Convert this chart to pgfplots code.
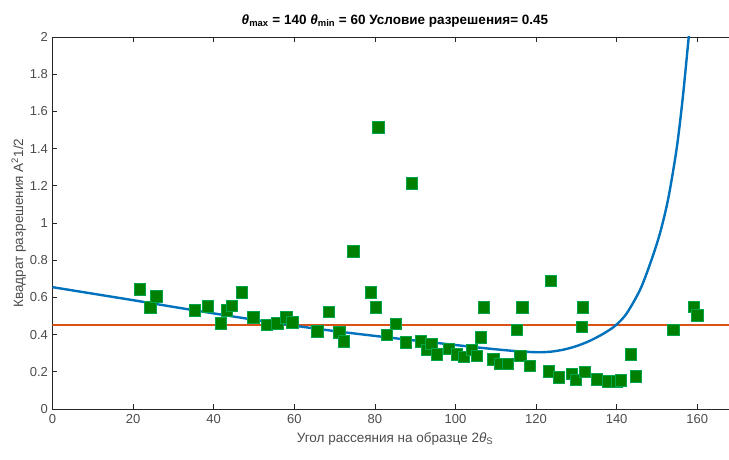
\documentclass[border=0pt]{standalone}
\usepackage{pgfplots}
\pgfplotsset{compat=1.18}
\usepackage{fontspec}
\setmainfont{Liberation Sans}
\definecolor{mblue}{rgb}{0,0.447,0.741}
\definecolor{morange}{rgb}{0.851,0.325,0.098}
\definecolor{mgreen}{rgb}{0,0.5,0}
\definecolor{txtgray}{rgb}{0.30,0.30,0.30}
\definecolor{axgray}{rgb}{0.15,0.15,0.15}
\begin{document}
\begin{tikzpicture}
\begin{axis}[
  name=ax,
  scale only axis,
  width=685pt, height=372pt,
  xmin=0, xmax=170, ymin=0, ymax=2,
  xtick={0,20,...,160},
  ytick={0,0.2,0.4,0.6,0.8,1,1.2,1.4,1.6,1.8,2},
  yticklabels={0,0.2,0.4,0.6,0.8,1,1.2,1.4,1.6,1.8,2},
  tick align=inside,
  major tick length=5pt,
  axis line style={axgray, line width=0.6pt},
  every tick/.style={axgray, line width=0.6pt},
  /pgf/number format/assume math mode=true,
  tick label style={font=\fontsize{13}{15}\selectfont, text=txtgray},
  xticklabel style={yshift=-2pt},
  yticklabel style={xshift=-1pt},
  label style={font=\fontsize{13.5}{16}\selectfont, text=txtgray},
  xlabel={Угол рассеяния на образце 2\textit{θ}\textsubscript{S}},
  ylabel={Квадрат разрешения A\textsuperscript{2}1/2},
  xlabel style={yshift=-2pt},
  ylabel style={yshift=-3pt},
  title={\textbf{\textit{θ}\textsubscript{max} = 140 \textit{θ}\textsubscript{min} = 60 Условие разрешения= 0.45}},
  title style={font=\fontsize{13.5}{15}\selectfont, yshift=0pt},
  clip=true,
]
\addplot[morange, line width=2.4pt] coordinates {(0,0.45) (170,0.45)};
\addplot[mblue, line width=2.4pt, smooth] coordinates {
(0,0.655) (10,0.62) (20,0.585) (30,0.549) (40,0.514) (50,0.480) (60,0.448)
(70,0.419) (80,0.393) (90,0.368) (100,0.344) (105,0.332) (110,0.321)
(114,0.313) (118,0.307) (121,0.305) (124,0.309) (127,0.320) (130,0.338)
(133,0.363) (136,0.396) (138,0.422) (139.9,0.452) (142.5,0.514) (145.8,0.640)
(148.3,0.780) (150.7,0.940) (152.8,1.130) (154.9,1.400) (156.4,1.670)
(157.9,2.000) (158.5,2.120)
};
\addplot[only marks, mark=square*, mark size=5.7pt,
  mark options={fill=mgreen, draw=mgreen!70!cyan, line width=0.4pt}] coordinates {
(21.6,0.643) (24.2,0.547) (25.7,0.607) (35.3,0.532) (38.5,0.552) (41.7,0.461)
(43.2,0.532) (44.4,0.554) (46.9,0.627) (49.8,0.493) (53.1,0.452) (55.8,0.461)
(58.0,0.493) (59.5,0.466) (65.7,0.418) (68.6,0.523) (71.2,0.412) (72.2,0.364)
(74.6,0.849) (78.9,0.627) (80.2,0.547) (80.8,1.514) (83.0,0.400) (85.2,0.460)
(87.6,0.360) (89.2,1.213) (91.4,0.365) (92.9,0.320) (94.0,0.350) (95.4,0.295)
(98.4,0.325) (100.3,0.294) (102.1,0.280) (104.0,0.320) (105.3,0.285) (106.3,0.385)
(107.0,0.547) (109.4,0.267) (111.0,0.245) (112.9,0.245) (115.2,0.426) (116.1,0.287)
(116.6,0.547) (118.5,0.233) (123.2,0.204) (123.7,0.690) (125.6,0.170) (128.9,0.190)
(129.9,0.156) (131.4,0.443) (131.6,0.547) (132.1,0.200) (135.0,0.160) (137.8,0.150)
(140.0,0.150) (141.0,0.155) (143.5,0.295) (144.7,0.177) (154.0,0.425) (159.2,0.550)
(160.0,0.505)
};
\end{axis}
\pgfresetboundingbox
\path[use as bounding box] ([xshift=-52.5pt,yshift=-51pt]ax.south west) rectangle ([xshift=676.5pt,yshift=37pt]ax.north west);
\end{tikzpicture}
\end{document}
